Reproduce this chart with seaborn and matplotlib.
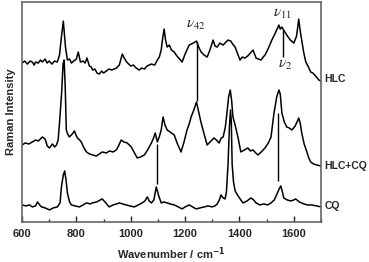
import matplotlib
matplotlib.use("Agg")
import matplotlib.pyplot as plt
import seaborn as sns
import pandas as pd
from matplotlib.ticker import MultipleLocator

# ---- data ----
hlc_wn = [600, 610, 620, 630, 638, 645, 650, 660, 668, 675, 685, 692, 700, 710, 720, 730,
          738, 745, 752, 760, 767, 775, 782, 790, 800, 807, 815, 825, 832, 839, 848, 855,
          860, 868, 876, 884, 893, 900, 910, 920, 930, 947, 958, 969, 976, 985, 1000, 1010,
          1020, 1031, 1040, 1050, 1060, 1076, 1088, 1098, 1105, 1112, 1118, 1123, 1128, 1134,
          1142, 1150, 1160, 1170, 1180, 1189, 1200, 1215, 1230, 1242, 1250, 1259, 1270, 1281,
          1290, 1303, 1310, 1318, 1328, 1340, 1350, 1358, 1368, 1375, 1384, 1395, 1402, 1410,
          1420, 1430, 1440, 1450, 1461, 1470, 1479, 1487, 1494, 1505, 1519, 1530, 1545, 1550,
          1556, 1565, 1574, 1587, 1600, 1610, 1618, 1624, 1629, 1636, 1644, 1652, 1662, 1670,
          1680, 1692, 1700]
hlc_int = [159, 161, 158, 161, 160, 157, 160, 159, 162, 160, 163, 159, 161, 158, 161, 160,
           167, 185, 201, 175, 162, 163, 159, 161, 163, 170, 160, 161, 159, 164, 156, 155,
           152, 153, 149, 148, 151, 149, 151, 153, 152, 154, 157, 168, 164, 160, 156, 157,
           154, 152, 154, 153, 156, 158, 157, 162, 165, 172, 185, 193, 182, 175,
           177, 172, 170, 166, 163, 160, 168, 177, 179, 181, 175, 170, 167, 165,
           171, 182, 176, 175, 179, 177, 180, 182, 181, 178, 175, 167, 162, 165,
           164, 166, 169, 172, 164, 163, 162, 165, 167, 173, 182, 188, 197, 193,
           195, 191, 187, 182, 179, 186, 203, 190, 182, 170, 160, 156, 150, 149,
           146, 142, 141]

mix_wn = [600, 612, 625, 638, 650, 660, 675, 685, 693, 701, 712, 720, 727, 733, 738, 746,
          751, 755, 759, 763, 768, 774, 785, 793, 800, 804, 812, 818, 828, 837, 848, 860,
          873, 885, 895, 910, 922, 935, 947, 955, 965, 975, 987, 1002, 1012, 1024, 1036,
          1050, 1062, 1076, 1084, 1090, 1098, 1106, 1112, 1119, 1126, 1134, 1145, 1160, 1172,
          1185, 1196, 1207, 1215, 1222, 1232, 1242, 1250, 1259, 1270, 1281, 1292, 1306, 1315,
          1325, 1333, 1340, 1348, 1354, 1360, 1366, 1371, 1376, 1384, 1395, 1405, 1418, 1431,
          1440, 1450, 1460, 1468, 1480, 1494, 1506, 1516, 1527, 1537, 1545, 1550, 1556, 1565,
          1574, 1583, 1593, 1605, 1618, 1624, 1629, 1638, 1648, 1655, 1662, 1672, 1684, 1700]
mix_int = [77, 79, 78, 80, 82, 81, 85, 83, 76, 74, 78, 75, 77, 82, 99, 130,
           158, 162, 135, 92, 88, 85, 88, 91, 86, 84, 82, 80, 74, 70, 68, 67,
           66, 68, 70, 69, 71, 70, 72, 76, 82, 80, 79, 75, 70, 64, 65,
           67, 72, 79, 84, 89, 80, 86, 92, 105, 97, 92, 90, 87, 78,
           70, 80, 92, 98, 105, 112, 120, 110, 99, 88, 77, 80, 84, 82,
           79, 84, 85, 95, 109, 125, 132, 122, 105, 97, 84, 70, 72, 74,
           71, 72, 69, 67, 70, 74, 79, 85, 109, 125, 132, 128, 109, 100,
           95, 94, 92, 96, 104, 98, 89, 78, 70, 64, 60, 58, 57, 56]

cq_wn = [600, 615, 628, 638, 650, 657, 665, 672, 685, 701, 715, 730, 740, 745, 752, 757,
         762, 767, 775, 782, 795, 811, 825, 837, 850, 859, 875, 888, 895, 905, 921, 935,
         948, 958, 970, 983, 997, 1013, 1028, 1042, 1052, 1061, 1068, 1076, 1085, 1094,
         1102, 1112, 1122, 1134, 1145, 1160, 1175, 1189, 1200, 1215, 1228, 1240, 1255, 1270,
         1285, 1299, 1310, 1318, 1326, 1332, 1340, 1347, 1352, 1358, 1363, 1367, 1370, 1373,
         1378, 1384, 1395, 1405, 1413, 1428, 1442, 1452, 1461, 1475, 1490, 1503, 1516, 1528,
         1538, 1546, 1552, 1558, 1563, 1575, 1589, 1600, 1607, 1620, 1637, 1650, 1665, 1684,
         1700]
cq_int = [17, 16, 17, 15, 16, 20, 17, 15, 14, 12, 14, 15, 19, 35, 47, 51,
          42, 29, 20, 17, 16, 15, 17, 19, 18, 19, 20, 22, 23, 20, 15, 17,
          18, 19, 18, 17, 16, 15, 17, 19, 21, 25, 21, 19, 22, 35,
          27, 19, 20, 19, 18, 17, 15, 13, 15, 17, 15, 13, 14, 15,
          16, 15, 16, 18, 22, 27, 24, 23, 30, 58, 95, 112, 100, 58,
          40, 31, 26, 22, 19, 21, 24, 22, 19, 17, 18, 17, 19, 22,
          28, 33, 36, 30, 24, 22, 21, 22, 23, 20, 18, 17, 17, 16,
          15]

series_names = ["HLC", "HLC+CQ", "CQ"]
x_ticks = [600, 800, 1000, 1200, 1400, 1600]

# vertical marker lines: (wavenumber, y_low, y_high)
marker_lines = [(1242, 121, 180), (1560, 165, 192), (1098, 38, 78), (1541, 41, 109)]
mode_labels = [(r"$\nu_{42}$", 1240, 197), (r"$\nu_{11}$", 1556, 208), (r"$\nu_{2}$", 1568, 157)]
series_label_y = [143, 56, 16]

df = pd.concat([
    pd.DataFrame({"wn": hlc_wn, "I": hlc_int, "s": "HLC"}),
    pd.DataFrame({"wn": mix_wn, "I": mix_int, "s": "HLC+CQ"}),
    pd.DataFrame({"wn": cq_wn, "I": cq_int, "s": "CQ"}),
])

sns.set_style("ticks")
plt.rcParams["font.family"] = ["Liberation Sans", "DejaVu Sans"]

fig = plt.figure(figsize=(3.69, 2.62), dpi=100)
ax = fig.add_axes([0.0596, 0.153, 0.8104, 0.839])

for name in series_names:
    sns.lineplot(data=df[df["s"] == name], x="wn", y="I", ax=ax, color="black",
                 linewidth=1.1, sort=False, estimator=None, legend=False)

for wn, y0, y1 in marker_lines:
    ax.vlines(wn, y0, y1, color="black", linewidth=1.0)

for txt, wn, y in mode_labels:
    ax.text(wn, y, txt, ha="center", va="center", fontsize=11,
            math_fontfamily="stix")

for name, y in zip(series_names, series_label_y):
    ax.text(1712, y, name, ha="left", va="center", fontsize=7.5,
            fontweight="bold", clip_on=False)

ax.set_xlim(600, 1700)
ax.set_ylim(0, 220)
ax.set_xticks(x_ticks)
ax.xaxis.set_minor_locator(MultipleLocator(100))
ax.set_yticks([])
ax.tick_params(axis="x", which="major", direction="in", length=4, width=1,
               labelsize=8, pad=5)
ax.tick_params(axis="x", which="minor", direction="in", length=2, width=1)
for lab in ax.get_xticklabels():
    lab.set_fontweight("bold")
ax.set_xlabel("Wavenumber / cm$^{\\mathbf{-1}}$", fontsize=8, fontweight="bold", labelpad=5)
ax.set_ylabel("Raman Intensity", fontsize=8, fontweight="bold", labelpad=4)
for sp in ax.spines.values():
    sp.set_visible(True)
    sp.set_color("#666666")
    sp.set_linewidth(1.2)

fig.savefig("out.png", dpi=100)
